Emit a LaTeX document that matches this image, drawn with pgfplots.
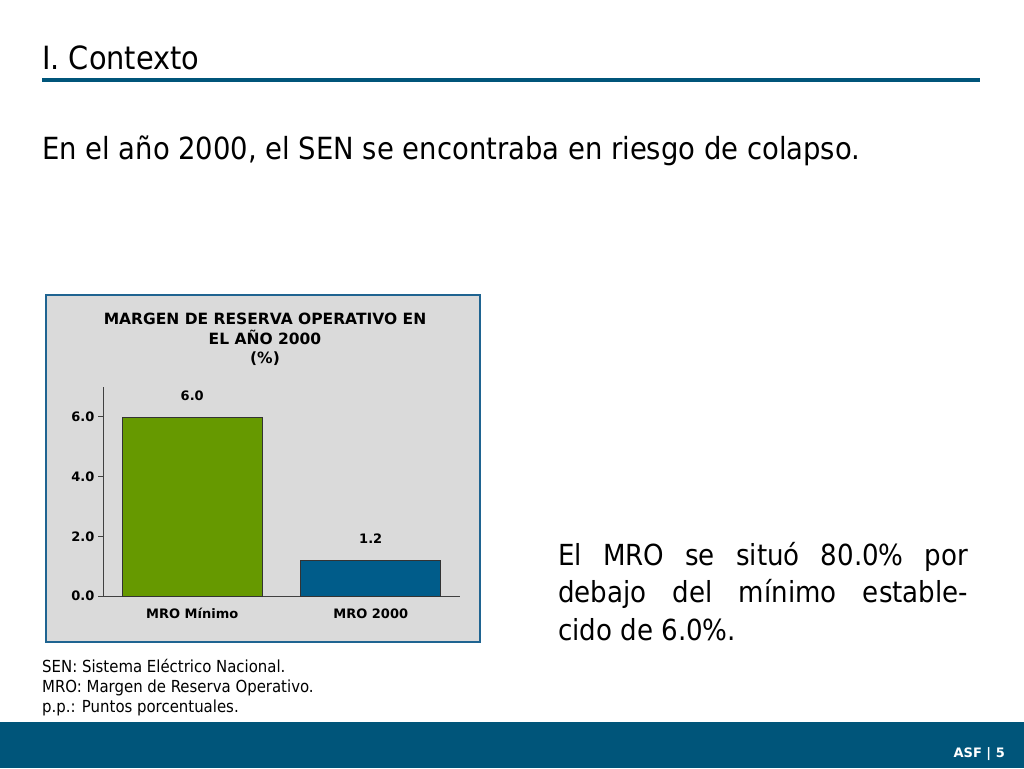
\documentclass[border=0pt]{standalone}
\usepackage{fontspec}
\setmainfont{DejaVu Sans Condensed}
\newfontfamily\chartfont{DejaVu Sans}
\usepackage{pgfplots}
\pgfplotsset{compat=1.18}

\definecolor{asfblue}{HTML}{00557A}
\definecolor{boxblue}{HTML}{1F6491}
\definecolor{boxgray}{HTML}{DADADA}
\definecolor{bargreen}{HTML}{669900}
\definecolor{barblue}{HTML}{005C8A}

\begin{document}
\begin{tikzpicture}[x=1pt,y=1pt]
\useasboundingbox (0,0) rectangle (1024,768);
\fill[white] (0,0) rectangle (1024,768);

% slide header
\node[anchor=base west,inner sep=0pt,font=\fontsize{32}{36}\selectfont] at (42,698) {I. Contexto};
\fill[asfblue] (42,686) rectangle (980,690);
\node[anchor=base west,inner sep=0pt,font=\fontsize{30.5}{34}\selectfont] at (42,608)
  {En el año 2000, el SEN se encontraba en riesgo de colapso.};

% chart box
\filldraw[fill=boxgray,draw=boxblue,line width=2.5pt] (46,473) rectangle (480,126);
% multi-line nodes: base anchor = baseline of the last line
\node[align=center,inner sep=0pt,anchor=base,font=\chartfont\bfseries\fontsize{15.5}{19.5}\selectfont] at (265,404)
  {MARGEN DE RESERVA OPERATIVO EN\\EL AÑO 2000\\(\%)};

\begin{axis}[
    at={(103pt,172pt)}, anchor=south west,
    scale only axis, width=357pt, height=209pt,
    xmin=-0.5, xmax=1.5, ymin=0, ymax=7,
    axis x line*=bottom, axis y line*=left,
    axis line style={black!75, line width=0.8pt},
    xtick={0,1}, xticklabels={MRO Mínimo, MRO 2000},
    major x tick style={draw=none},
    extra x ticks={0.5,1.5}, extra x tick labels={},
    extra x tick style={tick style={black!75, line width=0.8pt}, major tick length=5pt},
    ytick={0,2,4,6},
    y tick label style={/pgf/number format/fixed, /pgf/number format/fixed zerofill, /pgf/number format/precision=1},
    /pgf/number format/assume math mode=true,
    tick align=outside, major tick length=5pt,
    ytick style={black!75, line width=0.8pt},
    ticklabel style={font=\chartfont\bfseries\fontsize{13}{15}\selectfont},
    xticklabel style={text height=10pt, text depth=2pt, yshift=-4pt},
    ybar, bar width=140pt, bar shift=0pt,
    nodes near coords,
    nodes near coords style={font=\chartfont\bfseries\fontsize{13}{15}\selectfont,
      /pgf/number format/fixed, /pgf/number format/fixed zerofill,
      /pgf/number format/precision=1, /pgf/number format/assume math mode=true,
      yshift=13pt},
    clip=false,
  ]
  \addplot[fill=bargreen, draw=black!80, line width=0.6pt] coordinates {(0,6.0)};
  \addplot[fill=barblue, draw=black!80, line width=0.6pt] coordinates {(1,1.2)};
\end{axis}

% right text
\node[anchor=base west,inner sep=0pt,align=left,font=\fontsize{29}{37.5}\selectfont] at (558,128)
  {\makebox[410pt][s]{El MRO se situó 80.0\% por}\\
   \makebox[410pt][s]{debajo del mínimo estable-}\\
   cido de 6.0\%.};

% footnotes
\node[anchor=base west,inner sep=0pt,align=left,font=\fontsize{16.6}{20}\selectfont] at (42,56)
  {SEN: Sistema Eléctrico Nacional.\\MRO: Margen de Reserva Operativo.\\p.p.: Puntos porcentuales.};

% footer
\fill[asfblue] (0,0) rectangle (1024,46);
\node[anchor=base east,inner sep=0pt,text=white] at (1005,11)
  {\chartfont\bfseries\fontsize{13}{15}\selectfont ASF | 5};
\end{tikzpicture}
\end{document}
